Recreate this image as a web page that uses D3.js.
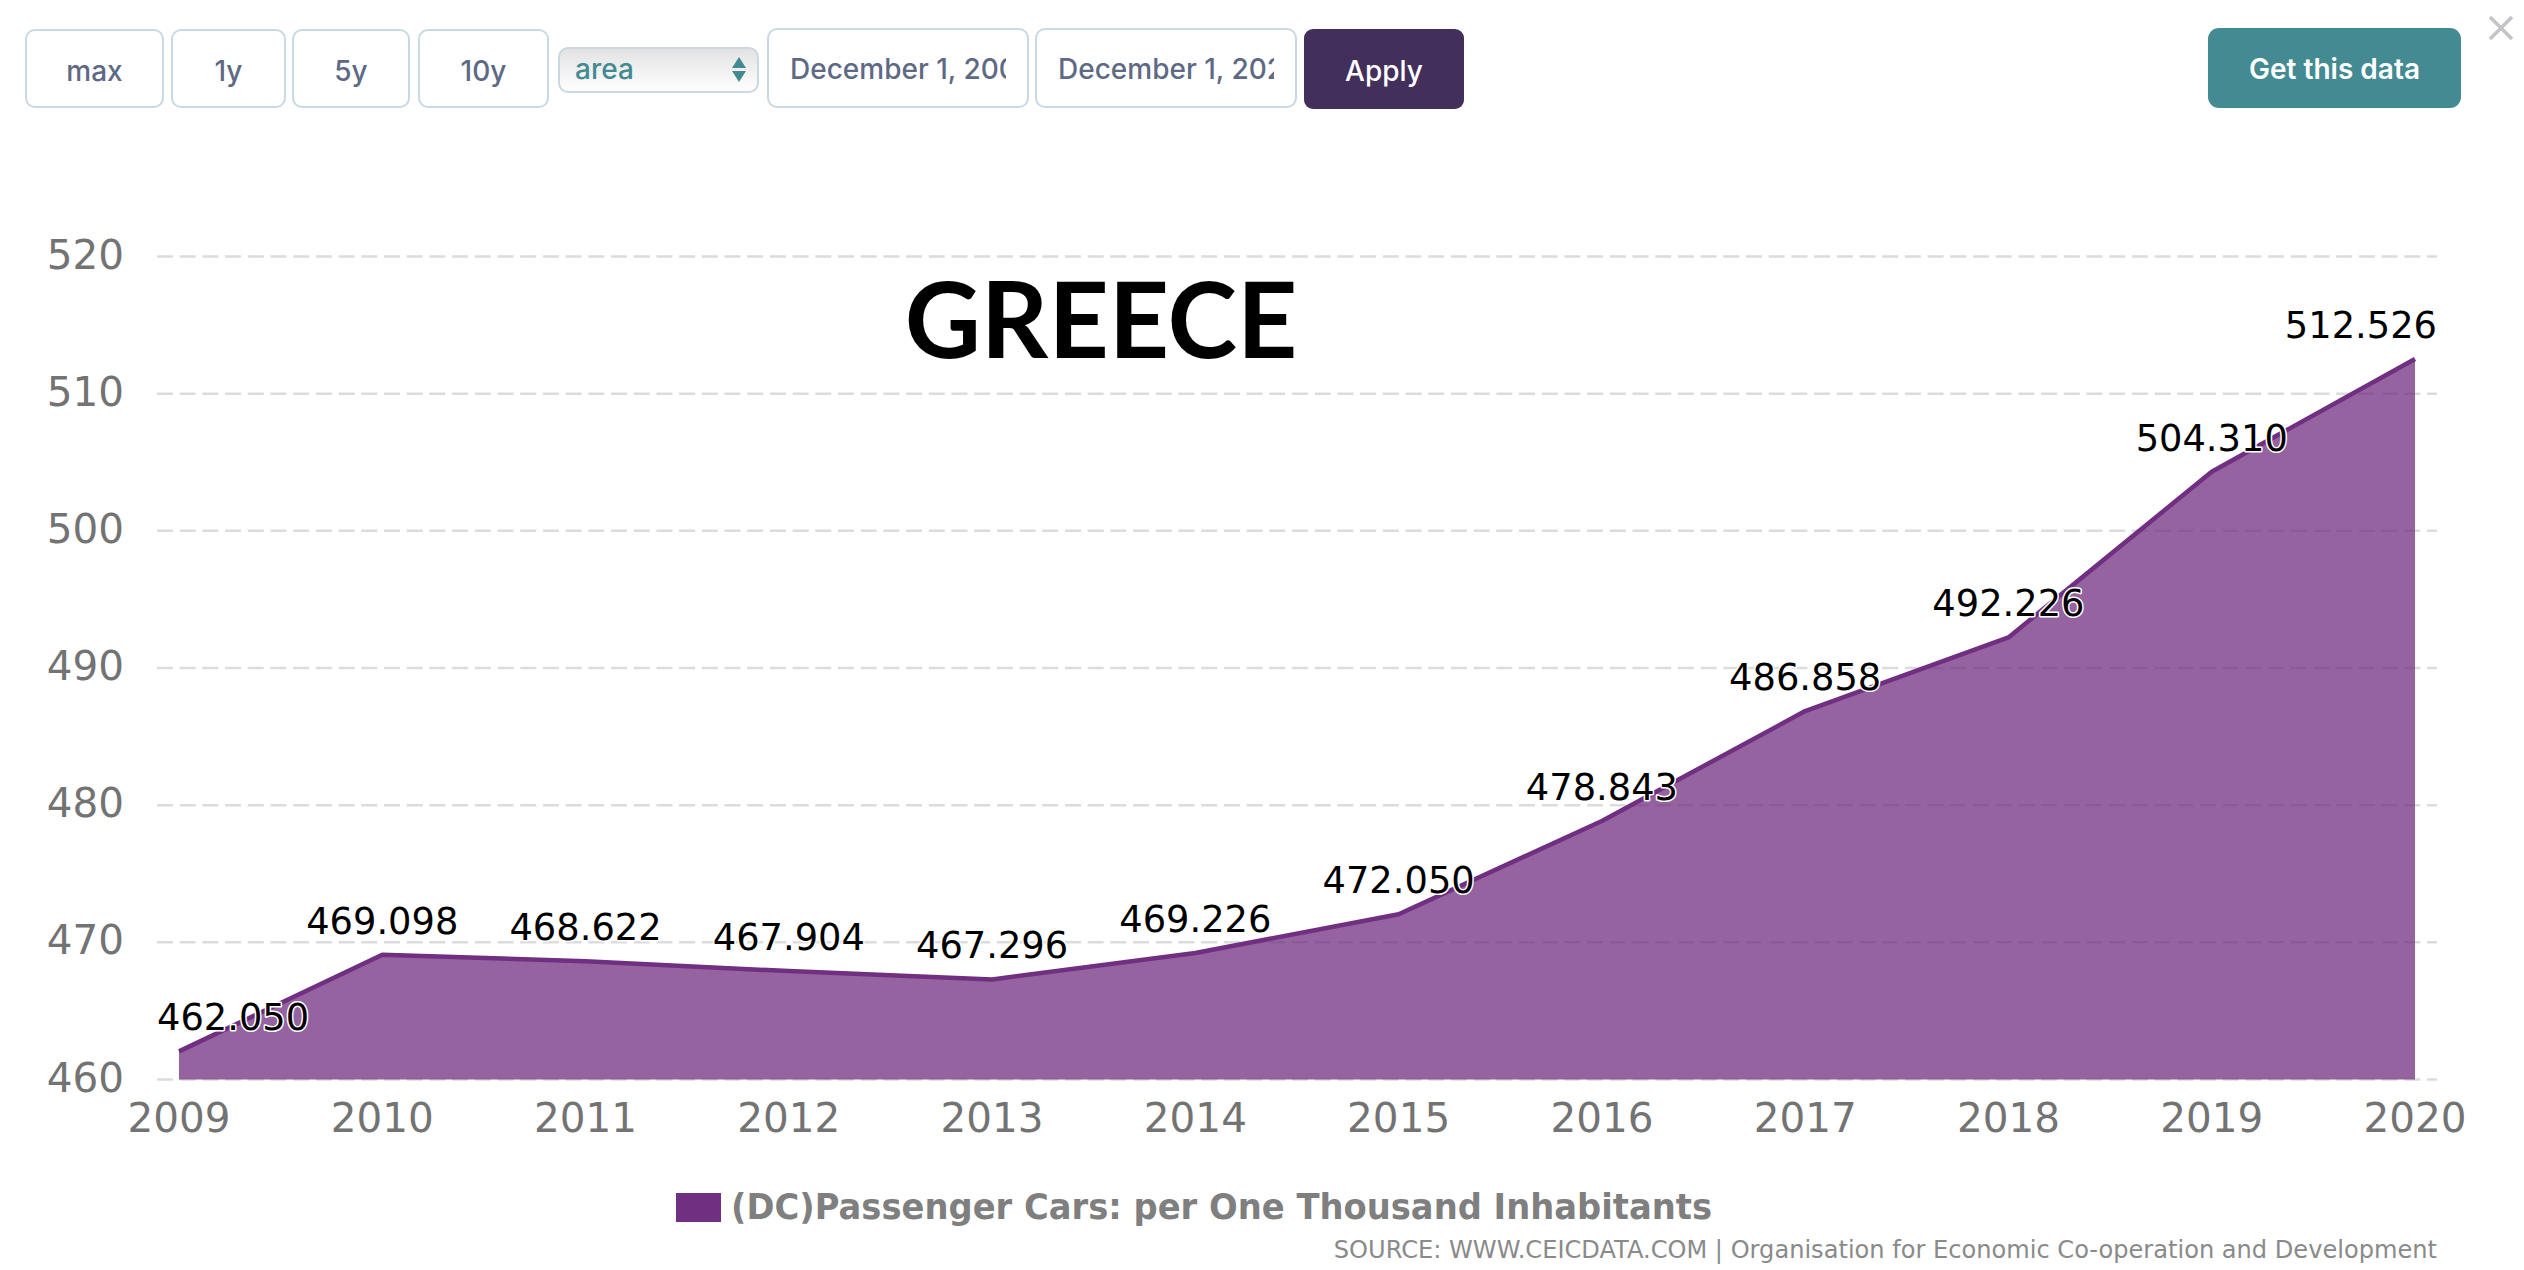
<!DOCTYPE html>
<html>
<head>
<meta charset="utf-8">
<script src="https://cdn.jsdelivr.net/npm/d3@7"></script>
<style>
  html, body { margin: 0; padding: 0; background: #fff; }
  svg { display: block; }
  .ui { font-family: Inter, "Noto Sans", sans-serif; font-size: 28px; font-weight: 500; }
  .axis text { font-family: "DejaVu Sans", sans-serif; font-size: 40.5px; fill: #737373; }
  .axis line { stroke: #dcdcdc; stroke-width: 2.5; stroke-dasharray: 16 6.7; }
  .axis path { display: none; }
  .val { font-family: "DejaVu Sans", sans-serif; font-size: 36.8px; fill: #000;
         stroke: #fff; stroke-width: 3px; paint-order: stroke; stroke-linejoin: round; }
</style>
</head>
<body>
<div id="chart"></div>
<script>
const years = ["2009","2010","2011","2012","2013","2014","2015","2016","2017","2018","2019","2020"];
const carsPerThousand = [462.050,469.098,468.622,467.904,467.296,469.226,472.050,478.843,486.858,492.226,504.310,512.526];
const yTicks = [460,470,480,490,500,510,520];
const rangeButtons = ["max","1y","5y","10y"];
const dateInputs = ["December 1, 2009","December 1, 2020"];
const chartType = "area";
const seriesName = "(DC)Passenger Cars: per One Thousand Inhabitants";
const sourceText = "SOURCE: WWW.CEICDATA.COM | Organisation for Economic Co-operation and Development";

const purple = "#702f80";
const teal = "#438a92";

const svg = d3.select("#chart").append("svg").attr("width", 2524).attr("height", 1270);
const defs = svg.append("defs");

// plot area
const x = d3.scalePoint().domain(years).range([179, 2415]);
const y = d3.scaleLinear().domain([460, 520]).range([1079.5, 256.5]);
const plotLeft = 157, plotRight = 2437;

// gridlines + y labels
const yAxis = svg.append("g").attr("class", "axis")
  .attr("transform", `translate(${plotLeft},0)`)
  .call(d3.axisLeft(y).offset(0).tickValues(yTicks).tickSize(-(plotRight - plotLeft)).tickPadding(33));
yAxis.selectAll("text").attr("dy", 12);

const xAxis = svg.append("g").attr("class", "axis")
  .attr("transform", "translate(0,1080)")
  .call(d3.axisBottom(x).offset(0).tickSize(0).tickPadding(23));
xAxis.selectAll("text").attr("dy", 29).attr("y", 23);

const points = years.map((d, i) => ({year: d, value: carsPerThousand[i]}));

const area = d3.area().x(d => x(d.year)).y0(y(460)).y1(d => y(d.value));
const line = d3.line().x(d => x(d.year)).y(d => y(d.value));

svg.append("path").datum(points).attr("d", area).attr("fill", purple).attr("fill-opacity", 0.75);
svg.append("path").datum(points).attr("d", line).attr("fill", "none")
  .attr("stroke", purple).attr("stroke-width", 4.5).attr("stroke-linejoin", "round");

// value labels, pushed back inside the plot at both ends
svg.append("g").selectAll("text").data(points).join("text")
  .attr("class", "val")
  .attr("text-anchor", "middle")
  .attr("x", d => x(d.year))
  .attr("y", d => y(d.value) - 21)
  .text(d => d.value.toFixed(3))
  .each(function(d) {
    const w = this.getComputedTextLength();
    const cx = Math.max(plotLeft + w / 2, Math.min(plotRight - w / 2, x(d.year)));
    d3.select(this).attr("x", cx);
  });

// title
svg.append("text").attr("x", 1101).attr("y", 358).attr("text-anchor", "middle")
  .attr("font-family", "Lato, sans-serif").attr("font-weight", 700).attr("font-size", 105)
  .attr("fill", "#000").text("GREECE");

// legend and source
svg.append("rect").attr("x", 676).attr("y", 1193).attr("width", 45).attr("height", 29).attr("fill", purple);
svg.append("text").attr("x", 731).attr("y", 1219)
  .attr("font-family", "DejaVu Sans, sans-serif").attr("font-weight", 700).attr("font-size", 35)
  .attr("textLength", 981).attr("lengthAdjust", "spacingAndGlyphs")
  .attr("fill", "#7f7f7f").text(seriesName);
svg.append("text").attr("x", 2437).attr("y", 1258).attr("text-anchor", "end")
  .attr("font-family", "DejaVu Sans, sans-serif").attr("font-size", 24.1)
  .attr("fill", "#8a8a8a").text(sourceText);

// toolbar
const ui = svg.append("g").attr("class", "ui");
const btnEdges = [[26,163],[172,285],[293,409],[419,548]];
rangeButtons.forEach((label, i) => {
  const [a, b] = btnEdges[i];
  ui.append("rect").attr("x", a).attr("y", 30).attr("width", b - a).attr("height", 77).attr("rx", 9)
    .attr("fill", "#fff").attr("stroke", "#c9d9e3").attr("stroke-width", 2);
  ui.append("text").attr("x", (a + b) / 2).attr("y", 81).attr("text-anchor", "middle")
    .attr("fill", "#5e6a85").text(label);
});

const grad = defs.append("linearGradient").attr("id", "selectFill").attr("x1", 0).attr("x2", 0).attr("y1", 0).attr("y2", 1);
grad.append("stop").attr("offset", 0).attr("stop-color", "#e2e2e2");
grad.append("stop").attr("offset", 1).attr("stop-color", "#ffffff");
ui.append("rect").attr("x", 559).attr("y", 48).attr("width", 199).attr("height", 44).attr("rx", 9)
  .attr("fill", "url(#selectFill)").attr("stroke", "#c9d9e3").attr("stroke-width", 2);
ui.append("text").attr("x", 575).attr("y", 79).attr("fill", teal).text(chartType);
ui.append("path").attr("d", "M739,57 L746,68 L732,68 Z").attr("fill", teal);
ui.append("path").attr("d", "M739,82 L746,71 L732,71 Z").attr("fill", teal);

const dateEdges = [[768,1028],[1036,1296]];
dateInputs.forEach((label, i) => {
  const [a, b] = dateEdges[i];
  defs.append("clipPath").attr("id", `dateClip${i}`).append("rect")
    .attr("x", a + 21).attr("y", 30).attr("width", b - a - 43).attr("height", 77);
  ui.append("rect").attr("x", a).attr("y", 29).attr("width", b - a).attr("height", 78).attr("rx", 9)
    .attr("fill", "#fff").attr("stroke", "#c9d9e3").attr("stroke-width", 2);
  ui.append("text").attr("x", a + 22).attr("y", 79).attr("fill", "#5e6a85")
    .attr("clip-path", `url(#dateClip${i})`).text(label);
});

ui.append("rect").attr("x", 1304).attr("y", 29).attr("width", 160).attr("height", 80).attr("rx", 9).attr("fill", "#432f5c");
ui.append("text").attr("x", 1384).attr("y", 81).attr("text-anchor", "middle").attr("fill", "#fff").text("Apply");

ui.append("rect").attr("x", 2208).attr("y", 28).attr("width", 253).attr("height", 80).attr("rx", 11).attr("fill", teal);
ui.append("text").attr("x", 2334.5).attr("y", 79).attr("text-anchor", "middle").attr("fill", "#fff").attr("font-weight", 600).text("Get this data");

ui.append("path").attr("d", "M2490,17 L2512,39 M2512,17 L2490,39").attr("stroke", "#c3c3ca").attr("stroke-width", 3.5).attr("fill", "none");
</script>
</body>
</html>
